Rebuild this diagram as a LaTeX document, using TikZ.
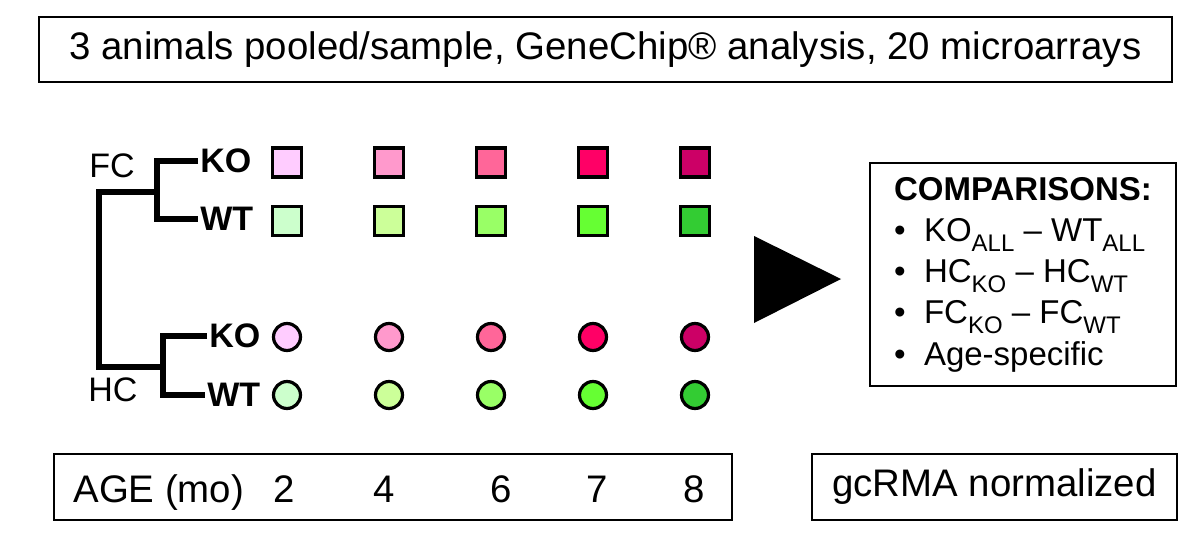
\documentclass[tikz,border=0pt]{standalone}
\usepackage{fontspec}
\setmainfont{Liberation Sans}
\usepackage{xcolor}
\usetikzlibrary{positioning}

\definecolor{ko1}{HTML}{FFCCFF}
\definecolor{ko2}{HTML}{FF99CC}
\definecolor{ko3}{HTML}{FF6699}
\definecolor{ko4}{HTML}{FF0066}
\definecolor{ko5}{HTML}{CC0066}
\definecolor{wt1}{HTML}{CCFFCC}
\definecolor{wt2}{HTML}{CCFF99}
\definecolor{wt3}{HTML}{99FF66}
\definecolor{wt4}{HTML}{66FF33}
\definecolor{wt5}{HTML}{33CC33}

\newcommand{\lowidx}[1]{\raisebox{-5pt}{\fontsize{12pt}{12pt}\selectfont #1}}
\newcommand{\bitem}{\makebox[15pt][l]{\textbullet}}

\begin{document}
\begin{tikzpicture}[x=0.5pt, y=-0.5pt,
    box/.style={draw, line width=1pt, inner sep=0pt},
    big/.style={font=\fontsize{19.2pt}{23pt}\selectfont, inner sep=0pt},
    tree/.style={line width=2.7pt},
    arm/.style={font=\fontsize{17pt}{17pt}\selectfont\bfseries, inner sep=1pt},
    region/.style={font=\fontsize{17pt}{17pt}\selectfont, inner sep=0pt},
    chip/.style={draw, line width=1.6pt, minimum size=14.5pt, inner sep=0pt},
    dot/.style={draw, circle, line width=1.6pt, minimum size=13.5pt, inner sep=0pt}]

  \useasboundingbox (0,0) rectangle (1200,546);

  \node [box, big, minimum width=566.5pt, minimum height=32.5pt] (header)
    at (605.5,49.5) {3 animals pooled/sample, GeneChip® analysis, 20 microarrays};

  \node [region] (fc) at (112,166) {FC};
  \node [region] (hc) at (113,390) {HC};
  \node [arm, anchor=west] (fcko) at (198,161) {KO};
  \node [arm, anchor=west] (fcwt) at (198,219) {WT};
  \node [arm, anchor=west] (hcko) at (207,336) {KO};
  \node [arm, anchor=west] (hcwt) at (205,395) {WT};
  \coordinate (fcj) at (157,192);
  \coordinate (hcj) at (163,367);
  \coordinate (spine) at (99,280);
  \draw [tree] (fcko.west) -| (fcj) |- (fcwt.west);
  \draw [tree] (hcko.west) -| (hcj) |- (hcwt.west);
  \draw [tree] (fcj) -| (spine) |- (hcj);

  \foreach \x/\n in {287/1, 389/2, 491/3, 593/4, 695/5} {
    \node [chip, fill=ko\n] (fcko\n) at (\x,162.5) {};
    \node [chip, fill=wt\n] (fcwt\n) at (\x,221) {};
    \node [dot, fill=ko\n] (hcko\n) at (\x,337) {};
    \node [dot, fill=wt\n] (hcwt\n) at (\x,395) {};
  }

  \fill (754,236) -- (841,279) -- (754,323) -- cycle;

  \node [box, minimum width=153pt, minimum height=111.5pt, align=left,
    font=\fontsize{16.5pt}{20.6pt}\selectfont] (cmp) at (1023,274.5)
    {{\bfseries COMPARISONS:}\\
     \bitem KO\lowidx{ALL} -- WT\lowidx{ALL}\\
     \bitem HC\lowidx{KO} -- HC\lowidx{WT}\\
     \bitem FC\lowidx{KO} -- FC\lowidx{WT}\\
     \bitem Age-specific};

  \node [box, minimum width=339pt, minimum height=33pt] (agebox) at (393,487) {};
  \node [big, anchor=base west] (agelbl) at (73,502) {AGE (mo)};
  \foreach \x/\a in {284/2, 384/4, 501/6, 597/7, 694/8}
    \node [big, anchor=base] (age\a) at (\x,502) {\a};

  \node [box, big, minimum width=182.5pt, minimum height=33pt] (norm)
    at (994.5,487) {gcRMA normalized};

\end{tikzpicture}
\end{document}
